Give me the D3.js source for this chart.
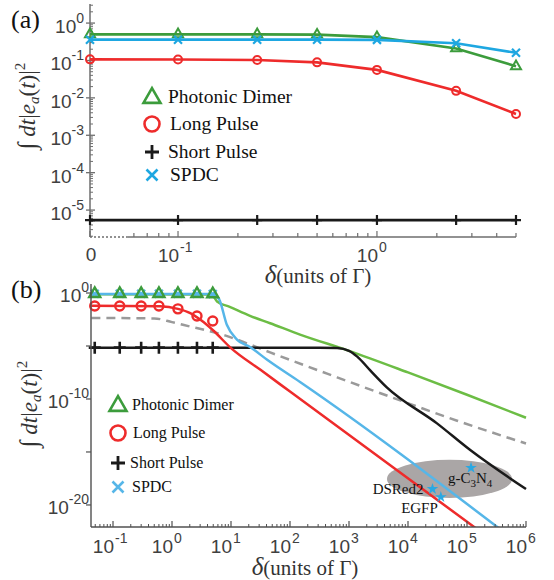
<!DOCTYPE html>
<html><head><meta charset="utf-8">
<script src="https://cdn.jsdelivr.net/npm/d3@7"></script>
<style>
body{margin:0;background:#fff}
svg text.sans{font-family:"Liberation Sans","Arimo",Arial,Helvetica,"DejaVu Sans",sans-serif}
svg text.serif{font-family:"Liberation Serif","Tinos","Times New Roman",Times,"DejaVu Serif","Noto Serif",serif}
</style>
</head><body>
<svg id="c" width="554" height="580"></svg>
<script>
// ---------- Panel (a) data ----------
const deltaA = [0, 0.1, 0.25, 0.5, 1, 2.5, 5];
const dimerA = [0.5, 0.5, 0.5, 0.49, 0.42, 0.21, 0.07];
const longA  = [0.107, 0.106, 0.103, 0.089, 0.056, 0.0154, 0.0037];
const shortA = [5.4e-6, 5.4e-6, 5.4e-6, 5.4e-6, 5.4e-6, 5.4e-6, 5.4e-6];
const spdcA  = [0.36, 0.36, 0.36, 0.36, 0.355, 0.29, 0.16];
const xTickValsA = [0, 0.1, 1];
const xTickExpA = [null, "-1", "0"];
const yTickExpA = [0, -1, -2, -3, -4, -5];

// ---------- Panel (b) data ----------
const deltaMarkB = [0.049, 0.13, 0.30, 0.60, 1.26, 2.65, 4.9];
const dimerMarkB = [0.85, 0.85, 0.85, 0.85, 0.85, 0.85, 0.8];
const longMarkB  = [0.06, 0.06, 0.06, 0.06, 0.032, 0.0068, 0.0023];
const shortMarkB = [7e-6, 7e-6, 7e-6, 7e-6, 7e-6, 7e-6, 7e-6];
const spdcMarkB  = [0.85, 0.85, 0.85, 0.85, 0.85, 0.85, 0.8];

const dimerLineD = [0.043, 4.2, 5.0, 5.8, 9.5, 21, 46, 148, 1000, 1e4, 1e5, 1e6];
const dimerLineV = [0.75, 0.72, 0.5, 0.16, 0.05, 7e-3, 1.4e-3, 1.2e-4, 3.5e-6, 3.2e-8, 2.5e-10, 1.7e-12];
const spdcLineD  = [0.043, 4.9, 6.3, 8.5, 12.6, 21, 41, 148, 4e5];
const spdcLineV  = [0.8, 0.8, 0.25, 1e-3, 4e-5, 8e-6, 5e-7, 4e-9, 3.5e-23];
const longLineD  = [0.043, 0.63, 1.26, 2.04, 3.16, 4.9, 10, 31.6, 100, 1.58e5];
const longLineV  = [0.063, 0.056, 0.032, 0.0126, 2.5e-3, 3.2e-4, 6.3e-6, 5.6e-8, 5e-10, 4e-23];
const shortLineD = [0.043, 316, 630, 1000, 1380, 2290, 4370, 3.1e4, 1.12e5, 1e6];
const shortLineV = [7e-6, 7e-6, 6.3e-6, 3.5e-6, 1e-6, 5e-8, 1.26e-9, 5e-13, 1.6e-15, 3.2e-19];
const dashLineD  = [0.043, 0.5, 1, 2, 4, 7.9, 15.8, 46, 630, 1.07e4, 6.8e4, 1e6];
const dashLineV  = [4.4e-3, 4e-3, 1.8e-3, 7e-4, 2.8e-4, 1e-4, 2.5e-5, 2.5e-6, 1.1e-8, 3.5e-11, 8.9e-13, 6.3e-15];

const starNames = ["DSRed2", "EGFP", "g-C3N4"];
const starD = [2.6e4, 3.6e4, 1.17e5];
const starV = [3.2e-19, 5.6e-20, 3.2e-17];
const ellipseD = [4.4e3, 5.8e5];
const ellipseV = [1.8e-16, 4.6e-20];

const xTickExpB = [-1, 0, 1, 2, 3, 4, 5, 6];
const yTickExpB = [0, -5, -10, -15, -20];
const yLabelExpB = [0, -10, -20];

const legendLabels = ["Photonic Dimer", "Long Pulse", "Short Pulse", "SPDC"];

// ---------- styles ----------
const C = {green:"#3c9c3c", greenB:"#6cbd45", red:"#ee2b2b", blue:"#1ea7e1", blueB:"#56b6e8",
           black:"#1a1a1a", gray:"#9a9a9a", axis:"#6e6e6e", axisB:"#505050", tick:"#404040"};

const svg = d3.select("#c");

// ---------- marker helpers ----------
function tri(g, x, y, w, color, sw) {
  g.append("path").attr("d", d3.symbol(d3.symbolTriangle, Math.sqrt(3)/4*w*w)())
    .attr("transform", `translate(${x},${y})`).attr("fill","none").attr("stroke",color).attr("stroke-width",sw);
}
function circ(g, x, y, r, color, sw) {
  g.append("circle").attr("cx",x).attr("cy",y).attr("r",r).attr("fill","none").attr("stroke",color).attr("stroke-width",sw);
}
function plus(g, x, y, h, color, sw) {
  g.append("path").attr("d",`M${x-h},${y}H${x+h}M${x},${y-h}V${y+h}`).attr("stroke",color).attr("stroke-width",sw).attr("fill","none");
}
function cross(g, x, y, h, color, sw) {
  g.append("path").attr("d",`M${x-h},${y-h}L${x+h},${y+h}M${x-h},${y+h}L${x+h},${y-h}`).attr("stroke",color).attr("stroke-width",sw).attr("fill","none");
}

function yLabel(x, y) {
  const t = svg.append("text").attr("class","serif").attr("transform",`translate(${x},${y}) rotate(-90)`)
    .attr("text-anchor","middle").attr("font-size",23).attr("fill","#333");
  t.append("tspan").text("∫").attr("font-size",25);
  t.append("tspan").text(" dt").attr("font-style","italic");
  t.append("tspan").text("|");
  t.append("tspan").text("e").attr("font-style","italic");
  t.append("tspan").text("a").attr("font-style","italic").attr("font-size",15).attr("dy",4);
  t.append("tspan").text("(").attr("dy",-4);
  t.append("tspan").text("t").attr("font-style","italic");
  t.append("tspan").text(")|");
  t.append("tspan").text("2").attr("font-size",15).attr("dy",-10);
}
function xLabel(x, y) {
  const t = svg.append("text").attr("class","serif").attr("x",x).attr("y",y).attr("text-anchor","middle")
    .attr("font-size",21).attr("fill","#333");
  t.append("tspan").text("δ").attr("font-style","italic").attr("font-size",25);
  t.append("tspan").text("(units of Γ)");
}
function xTickLabel(g, x, y, exp) {
  g.append("text").attr("class","sans").attr("x",x+1).attr("y",y).attr("text-anchor","end")
    .attr("font-size",19).attr("fill",C.tick).text("10");
  g.append("text").attr("class","sans").attr("x",x+2).attr("y",y-10).attr("text-anchor","start")
    .attr("font-size",14).attr("fill",C.tick).text(exp);
}
function yTickLabel(g, x, y, exp) {
  const t = g.append("text").attr("class","sans").attr("x",x).attr("y",y).attr("text-anchor","end")
    .attr("font-size",19).attr("fill",C.tick);
  t.append("tspan").text("10");
  t.append("tspan").text(exp).attr("font-size",14).attr("dy",-10);
}

// =================== Panel (a) ===================
const xA = d3.scaleLog().domain([0.0361, 5]).range([90, 516]);
const yA = d3.scaleLog().domain([Math.pow(10,-5.72), Math.pow(10,0.51)]).range([237, 4]);
const fxA = d => d === 0 ? xA(xA.domain()[0]) : xA(d);
const gA = svg.append("g");

gA.append("line").attr("x1",90).attr("x2",90).attr("y1",yA.range()[1]).attr("y2",yA.range()[0])
  .attr("stroke",C.axis).attr("stroke-width",1.5);
gA.append("line").attr("x1",fxA(0)).attr("x2",xA(0.056)).attr("y1",237).attr("y2",237)
  .attr("stroke",C.axis).attr("stroke-width",1.5).attr("stroke-dasharray","2,2");
gA.append("line").attr("x1",xA(0.056)).attr("x2",xA(5)).attr("y1",237).attr("y2",237)
  .attr("stroke",C.axis).attr("stroke-width",1.5);
const minorA = [];
[-2,-1,0].forEach(e => d3.range(2,10).forEach(m => { const v = m*Math.pow(10,e); if (v>=0.06 && v<=5) minorA.push(v); }));
gA.selectAll(".mnx").data(minorA).join("line").attr("x1",d=>xA(d)).attr("x2",d=>xA(d))
  .attr("y1",237).attr("y2",233).attr("stroke",C.axis).attr("stroke-width",1.2);
gA.selectAll(".mjx").data(xTickValsA).join("line").attr("x1",d=>fxA(d)).attr("x2",d=>fxA(d))
  .attr("y1",237).attr("y2",231).attr("stroke",C.axis).attr("stroke-width",1.2);
xTickValsA.forEach((v,i) => {
  if (xTickExpA[i] === null) {
    gA.append("text").attr("class","sans").attr("x",fxA(v)+1).attr("y",261).attr("text-anchor","middle")
      .attr("font-size",19).attr("fill",C.tick).text("0");
  } else xTickLabel(gA, xA(v), 262, xTickExpA[i]);
});
const minorYA = [];
d3.range(-6,1).forEach(e => d3.range(2,10).forEach(m => { const v = m*Math.pow(10,e); if (v>=yA.domain()[0] && v<=yA.domain()[1]) minorYA.push(v); }));
gA.selectAll(".mny").data(minorYA).join("line").attr("x1",90).attr("x2",93)
  .attr("y1",d=>yA(d)).attr("y2",d=>yA(d)).attr("stroke",C.axis).attr("stroke-width",1);
gA.selectAll(".mjy").data(yTickExpA).join("line").attr("x1",86).attr("x2",95)
  .attr("y1",d=>yA(Math.pow(10,d))).attr("y2",d=>yA(Math.pow(10,d))).attr("stroke",C.axis).attr("stroke-width",1.3);
yTickExpA.forEach(e => yTickLabel(gA, 84, yA(Math.pow(10,e))+10, String(e)));

const lineA = d3.line().x(d=>fxA(d[0])).y(d=>yA(d[1]));
const seriesA = [
  {v: shortA, color: C.black, m: "plus"},
  {v: longA, color: C.red, m: "circ"},
  {v: dimerA, color: C.green, m: "tri"},
  {v: spdcA, color: C.blue, m: "cross"}
];
seriesA.forEach(s => {
  const pts = deltaA.map((d,i)=>[d, s.v[i]]);
  gA.append("path").attr("d", lineA(pts)).attr("fill","none").attr("stroke",s.color).attr("stroke-width",2.6);
  pts.forEach(p => {
    const x = fxA(p[0]), y = yA(p[1]);
    if (s.m==="plus") plus(gA,x,y,5,s.color,2.2);
    if (s.m==="circ") circ(gA,x,y,4,s.color,2);
    if (s.m==="tri") tri(gA,x,y,10,s.color,2);
    if (s.m==="cross") cross(gA,x,y,4,s.color,2.2);
  });
});
const legA = svg.append("g");
const legAy = [97, 124, 152, 175];
tri(legA,152,legAy[0]+1,17,C.green,2.6);
circ(legA,152,legAy[1],7.5,C.red,2.6);
plus(legA,152,legAy[2],7,C.black,2.8);
cross(legA,152,legAy[3],5.5,C.blue,2.6);
legendLabels.forEach((t,i)=>{
  legA.append("text").attr("class","serif").attr("x",[168,170,168,170][i]).attr("y",legAy[i]+6)
    .attr("font-size",19.5).attr("fill","#111").text(t);
});
svg.append("text").attr("class","serif").attr("x",11).attr("y",28).attr("font-size",26).attr("fill","#111").text("(a)");
yLabel(35, 106);
xLabel(318, 283);

// =================== Panel (b) ===================
const xB = d3.scaleLog().domain([Math.pow(10,-1.373), 1e6]).range([91, 526]);
const yB = d3.scaleLog().domain([Math.pow(10,-22.08), Math.pow(10,0.85)]).range([527, 284]);
const gB = svg.append("g");
svg.append("clipPath").attr("id","clipB").append("rect").attr("x",91).attr("y",270).attr("width",440).attr("height",257);

const ex0 = xB(ellipseD[0]), ex1 = xB(ellipseD[1]), ey0 = yB(ellipseV[0]), ey1 = yB(ellipseV[1]);
gB.append("ellipse").attr("cx",(ex0+ex1)/2).attr("cy",(ey0+ey1)/2).attr("rx",(ex1-ex0)/2).attr("ry",(ey1-ey0)/2)
  .attr("fill","#aaa6a6");

const lineB = d3.line().x(d=>xB(d[0])).y(d=>yB(d[1])).curve(d3.curveMonotoneX);
const lg = gB.append("g").attr("clip-path","url(#clipB)");
const linesB = [
  {d: dashLineD, v: dashLineV, color: C.gray, dash: "9,6"},
  {d: dimerLineD, v: dimerLineV, color: C.greenB},
  {d: shortLineD, v: shortLineV, color: C.black},
  {d: spdcLineD, v: spdcLineV, color: C.blueB},
  {d: longLineD, v: longLineV, color: C.red}
];
linesB.forEach(s => {
  lg.append("path").attr("d", lineB(s.d.map((d,i)=>[d, s.v[i]]))).attr("fill","none")
    .attr("stroke",s.color).attr("stroke-width",2.5).attr("stroke-dasharray", s.dash || null);
});
deltaMarkB.forEach((d,i)=>{
  const x = xB(d);
  plus(gB,x,yB(shortMarkB[i]),6,C.black,2.6);
  circ(gB,x,yB(longMarkB[i]),4.5,C.red,2.4);
  cross(gB,x,yB(spdcMarkB[i]),4,C.blueB,2.2);
  tri(gB,x,yB(dimerMarkB[i]),11,C.green,2.4);
});
starD.forEach((d,i)=>{
  gB.append("path").attr("d", d3.symbol(d3.symbolStar, 42)()).attr("transform",`translate(${xB(d)},${yB(starV[i])})`)
    .attr("fill","#2aa8e2");
});
const lblStyle = t => t.attr("class","serif").attr("font-size",15).attr("fill","#111");
lblStyle(gB.append("text").attr("x",xB(starD[0])-9).attr("y",yB(starV[0])+5).attr("text-anchor","end").text(starNames[0]));
lblStyle(gB.append("text").attr("x",xB(starD[1])-3).attr("y",yB(starV[1])+16).attr("text-anchor","end").text(starNames[1]));
{
  const t = lblStyle(gB.append("text").attr("x",xB(starD[2])-23).attr("y",yB(starV[2])+15));
  t.append("tspan").text("g-C");
  t.append("tspan").text("3").attr("font-size",11).attr("dy",4);
  t.append("tspan").text("N").attr("dy",-4);
  t.append("tspan").text("4").attr("font-size",11).attr("dy",4);
}

gB.append("line").attr("x1",91).attr("x2",91).attr("y1",284).attr("y2",527).attr("stroke",C.axisB).attr("stroke-width",1.4);
gB.append("line").attr("x1",91).attr("x2",526).attr("y1",527).attr("y2",527).attr("stroke",C.axisB).attr("stroke-width",1.4);
const minorB = [];
d3.range(-2,6).forEach(e => d3.range(2,10).forEach(m => { const v = m*Math.pow(10,e); if (v>=xB.domain()[0] && v<=1e6) minorB.push(v); }));
gB.selectAll(".mnxb").data(minorB).join("line").attr("x1",d=>xB(d)).attr("x2",d=>xB(d))
  .attr("y1",527).attr("y2",524).attr("stroke",C.axisB).attr("stroke-width",1);
gB.selectAll(".mjxb").data(xTickExpB).join("line").attr("x1",d=>xB(Math.pow(10,d))).attr("x2",d=>xB(Math.pow(10,d)))
  .attr("y1",527).attr("y2",521).attr("stroke",C.axisB).attr("stroke-width",1.2);
xTickExpB.forEach(e => xTickLabel(gB, xB(Math.pow(10,e)), 553, String(e)));
gB.selectAll(".mjyb").data(yTickExpB).join("line").attr("x1",86).attr("x2",91)
  .attr("y1",d=>yB(Math.pow(10,d))).attr("y2",d=>yB(Math.pow(10,d))).attr("stroke",C.axisB).attr("stroke-width",1.2);
yLabelExpB.forEach(e => yTickLabel(gB, 89, yB(Math.pow(10,e))+9, String(e)));

const legB = svg.append("g");
const legBy = [405, 433, 463, 487];
tri(legB,118,legBy[0]+1,17,C.green,2.6);
circ(legB,118,legBy[1],7.5,C.red,2.6);
plus(legB,118,legBy[2],7,C.black,2.8);
cross(legB,118,legBy[3],5.5,C.blueB,2.6);
legendLabels.forEach((t,i)=>{
  legB.append("text").attr("class","serif").attr("x",[132,133,130,132][i]).attr("y",legBy[i]+5)
    .attr("font-size",16).attr("fill","#111").text(t);
});
svg.append("text").attr("class","serif").attr("x",11).attr("y",298).attr("font-size",26).attr("fill","#111").text("(b)");
yLabel(37, 404);
xLabel(305, 575);
</script>
</body></html>
